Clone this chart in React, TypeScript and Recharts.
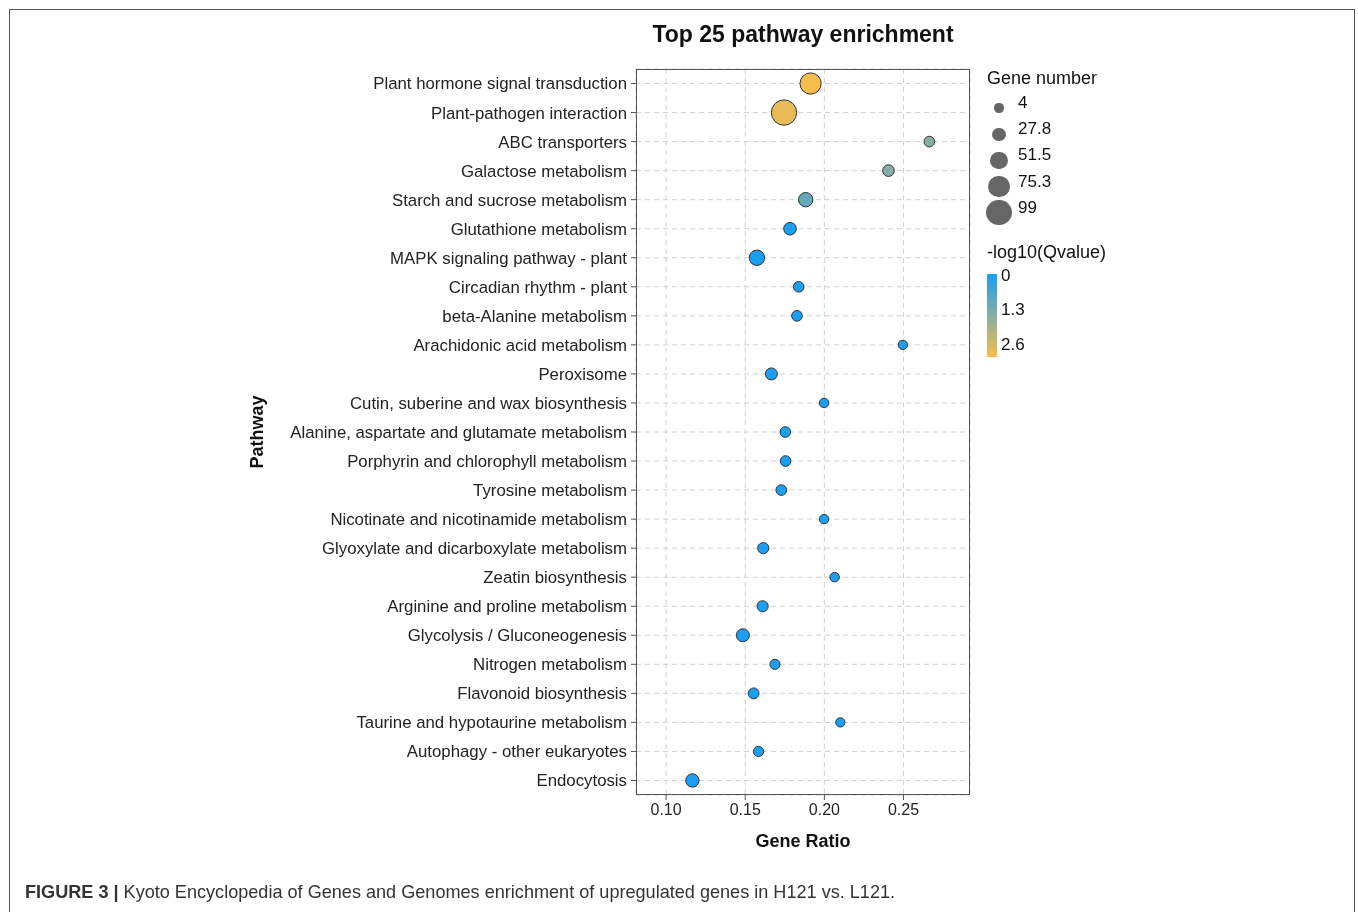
import React from "react";
import {
  CartesianGrid,
  Scatter,
  ScatterChart,
  XAxis,
  YAxis,
  ZAxis,
} from "recharts";

const pathways = [
  "Plant hormone signal transduction",
  "Plant-pathogen interaction",
  "ABC transporters",
  "Galactose metabolism",
  "Starch and sucrose metabolism",
  "Glutathione metabolism",
  "MAPK signaling pathway - plant",
  "Circadian rhythm - plant",
  "beta-Alanine metabolism",
  "Arachidonic acid metabolism",
  "Peroxisome",
  "Cutin, suberine and wax biosynthesis",
  "Alanine, aspartate and glutamate metabolism",
  "Porphyrin and chlorophyll metabolism",
  "Tyrosine metabolism",
  "Nicotinate and nicotinamide metabolism",
  "Glyoxylate and dicarboxylate metabolism",
  "Zeatin biosynthesis",
  "Arginine and proline metabolism",
  "Glycolysis / Gluconeogenesis",
  "Nitrogen metabolism",
  "Flavonoid biosynthesis",
  "Taurine and hypotaurine metabolism",
  "Autophagy - other eukaryotes",
  "Endocytosis",
];

const geneRatio = [
  0.1913, 0.1745, 0.2663, 0.2405, 0.1882, 0.1783, 0.1574, 0.1838, 0.1827,
  0.2496, 0.1665, 0.1998, 0.1753, 0.1755, 0.1728, 0.1998, 0.1614, 0.2065,
  0.161, 0.1485, 0.1688, 0.1553, 0.2101, 0.1584, 0.1166,
];

const geneNumber = [
  75, 99, 12, 18, 34, 24, 40, 12, 12, 4, 20, 5, 12, 12, 12, 5, 15, 5, 15, 26,
  9, 13, 4, 10, 28,
];

const qValue = [
  3.05, 2.85, 1.5, 1.45, 1.05, 0.03, 0.02, 0.02, 0.02, 0.02, 0.02, 0.02, 0.02,
  0.02, 0.02, 0.02, 0.02, 0.02, 0.02, 0.02, 0.02, 0.02, 0.02, 0.02, 0.02,
];

const xTicks = [0.1, 0.15, 0.2, 0.25];
const sizeBreaks = [4, 27.8, 51.5, 75.3, 99];
const colorBreaks = [0, 1.3, 2.6];

const data = pathways.map((name, i) => ({
  name,
  ratio: geneRatio[i],
  count: geneNumber[i],
  q: qValue[i],
}));

const FONT = '"Liberation Sans", Arial, Helvetica, sans-serif';
const LOW = [25, 159, 245];
const HIGH = [247, 189, 76];
const Q_MAX = 3.05;
const D_MIN = 9.3;
const D_MAX = 25.3;

function qColor(q: number) {
  const t = Math.max(0, Math.min(1, q / Q_MAX));
  const c = LOW.map((v, i) => Math.round(v + (HIGH[i] - v) * t));
  return `rgb(${c[0]},${c[1]},${c[2]})`;
}

function legendDiameter(v: number) {
  return D_MIN + ((v - 4) / 95) * (D_MAX - D_MIN);
}

const Bubble = (props: any) => {
  const { cx, cy, size, payload } = props;
  if (cx == null || cy == null) return null;
  return (
    <circle
      cx={cx}
      cy={cy}
      r={size / 2}
      fill={qColor(payload.q)}
      stroke="#333"
      strokeWidth={1}
    />
  );
};

export default function App() {
  // plot box in wrapper coords
  const plot = { left: 628, top: 61, width: 334, height: 726 };

  return (
    <div
      style={{
        position: "relative",
        width: 1342,
        height: 896,
        fontFamily: FONT,
        color: "#111",
      }}
    >
      <div
        style={{
          position: "fixed",
          left: 9,
          top: 9,
          right: 3,
          bottom: 0,
          borderTop: "1.5px solid #555",
          borderLeft: "1.5px solid #555",
          borderRight: "1.5px solid #555",
          boxSizing: "border-box",
          pointerEvents: "none",
        }}
      />
      <div
        style={{
          position: "absolute",
          left: plot.left + plot.width / 2 - 300,
          width: 600,
          top: 13,
          textAlign: "center",
          fontWeight: "bold",
          fontSize: 23,
        }}
      >
        Top 25 pathway enrichment
      </div>

      <div style={{ position: "absolute", left: 0, top: 0 }}>
        <ScatterChart
          width={1342}
          height={896}
          margin={{ top: 61, right: 380, bottom: 49, left: 240 }}
        >
          <CartesianGrid stroke="#d0d0d0" strokeDasharray="5 4" />
          <XAxis
            type="number"
            dataKey="ratio"
            domain={[0.081, 0.292]}
            ticks={xTicks}
            tickFormatter={(v: number) => v.toFixed(2)}
            allowDataOverflow
            axisLine={false}
            tickLine={{ stroke: "#555" }}
            tickSize={5}
            tickMargin={4}
            height={60}
            tick={{ fill: "#222", fontSize: 16, fontFamily: FONT }}
            label={{
              value: "Gene Ratio",
              position: "insideBottom",
              offset: 8,
              fill: "#111",
              fontSize: 18,
              fontWeight: "bold",
              fontFamily: FONT,
            }}
          />
          <YAxis
            type="category"
            dataKey="name"
            reversed
            interval={0}
            width={388}
            axisLine={false}
            tickLine={{ stroke: "#555" }}
            tickSize={5}
            tickMargin={4}
            tick={{ fill: "#222", fontSize: 16.8, fontFamily: FONT }}
            label={{
              value: "Pathway",
              angle: -90,
              position: "insideLeft",
              offset: 9,
              fill: "#111",
              fontSize: 18,
              fontWeight: "bold",
              fontFamily: FONT,
              style: { textAnchor: "middle" },
            }}
          />
          <ZAxis
            type="number"
            dataKey="count"
            domain={[4, 99]}
            range={[D_MIN, D_MAX]}
          />
          <Scatter data={data} shape={Bubble} isAnimationActive={false} />
        </ScatterChart>
      </div>

      <div
        style={{
          position: "absolute",
          left: plot.left,
          top: plot.top,
          width: plot.width,
          height: plot.height,
          border: "1.5px solid #555",
          boxSizing: "border-box",
          pointerEvents: "none",
        }}
      />

      {/* legends */}
      <div style={{ position: "absolute", left: 979, top: 60, fontSize: 18 }}>
        Gene number
      </div>
      {sizeBreaks.map((v, i) => {
        const d = legendDiameter(v);
        const cy = 100 + i * 26.2;
        return (
          <React.Fragment key={v}>
            <div
              style={{
                position: "absolute",
                left: 991 - d / 2,
                top: cy - d / 2,
                width: d,
                height: d,
                borderRadius: "50%",
                background: "#666",
              }}
            />
            <div
              style={{
                position: "absolute",
                left: 1010,
                top: cy - 15,
                fontSize: 17,
              }}
            >
              {v}
            </div>
          </React.Fragment>
        );
      })}
      <div style={{ position: "absolute", left: 979, top: 234, fontSize: 18 }}>
        -log10(Qvalue)
      </div>
      <div
        style={{
          position: "absolute",
          left: 979,
          top: 266,
          width: 10,
          height: 83,
          background: `linear-gradient(to bottom, ${qColor(0)}, ${qColor(
            Q_MAX / 2
          )}, ${qColor(Q_MAX)})`,
        }}
      />
      {colorBreaks.map((v) => (
        <div
          key={v}
          style={{
            position: "absolute",
            left: 993,
            top: 268 + v * 26.5 - 10,
            fontSize: 17,
          }}
        >
          {v}
        </div>
      ))}

      <div
        style={{
          position: "absolute",
          left: 17,
          top: 874,
          fontSize: 18.1,
          color: "#333",
          whiteSpace: "nowrap",
        }}
      >
        <b>FIGURE 3 |</b> Kyoto Encyclopedia of Genes and Genomes enrichment of
        upregulated genes in H121 vs. L121.
      </div>
    </div>
  );
}
